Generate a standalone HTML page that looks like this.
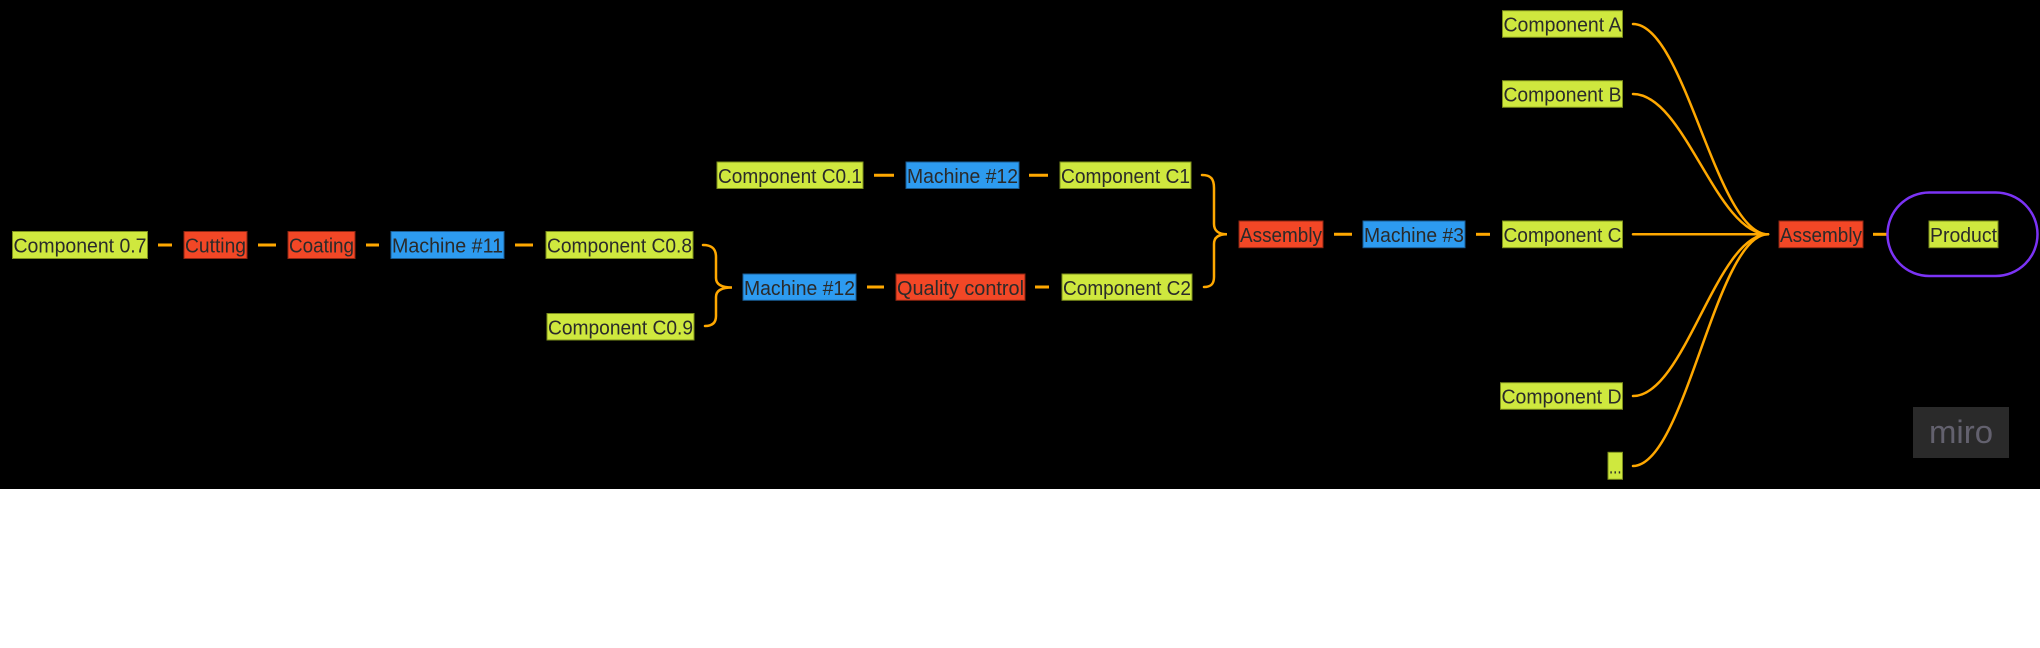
<!DOCTYPE html>
<html>
<head>
<meta charset="utf-8">
<style>
  html, body { margin:0; padding:0; background:#ffffff; }
  body { width:2040px; height:648px; overflow:hidden; }
  svg { display:block; }
  .t { font-family:"Liberation Sans", "DejaVu Sans", sans-serif; font-size:20px; fill:#2a2a2a; }
  .g { fill:#cfe83e; stroke:#7d8f1c; stroke-width:1; }
  .r { fill:#f24726; stroke:#8e2612; stroke-width:1; }
  .b { fill:#2d9bf0; stroke:#1a5c94; stroke-width:1; }
  .d { stroke:#ffa800; stroke-width:3; fill:none; }
  .c { stroke:#ffa800; stroke-width:2.5; fill:none; stroke-linecap:round; }
</style>
</head>
<body>
<svg width="2040" height="648" viewBox="0 0 2040 648" xmlns="http://www.w3.org/2000/svg">
  <rect x="0" y="0" width="2040" height="489" fill="#000000"/>
  <rect x="0" y="489" width="2040" height="159" fill="#ffffff"/>

  <!-- Row A -->
  <rect class="g" x="12.5" y="231.5" width="135" height="27"/>
  <text class="t" x="13.5" y="252.5" textLength="133" lengthAdjust="spacingAndGlyphs">Component 0.7</text>
  <rect class="r" x="184" y="231.5" width="63" height="27"/>
  <text class="t" x="185" y="252.5" textLength="61" lengthAdjust="spacingAndGlyphs">Cutting</text>
  <rect class="r" x="288" y="231.5" width="67" height="27"/>
  <text class="t" x="289" y="252.5" textLength="65" lengthAdjust="spacingAndGlyphs">Coating</text>
  <rect class="b" x="391" y="231.5" width="113" height="27"/>
  <text class="t" x="392" y="252.5" textLength="111" lengthAdjust="spacingAndGlyphs">Machine #11</text>
  <rect class="g" x="546" y="231.5" width="147" height="27"/>
  <text class="t" x="547" y="252.5" textLength="145" lengthAdjust="spacingAndGlyphs">Component C0.8</text>

  <line class="d" x1="158" y1="245" x2="172" y2="245"/>
  <line class="d" x1="258" y1="245" x2="276" y2="245"/>
  <line class="d" x1="366" y1="245" x2="379" y2="245"/>
  <line class="d" x1="515" y1="245" x2="533" y2="245"/>

  <!-- C0.9 -->
  <rect class="g" x="547" y="313.5" width="147" height="26.5"/>
  <text class="t" x="548" y="334.5" textLength="145" lengthAdjust="spacingAndGlyphs">Component C0.9</text>

  <!-- Brace 1 -->
  <path class="c" d="M703,245 C712,245 716,249 716,257 L716,278 C716,285 722,287.5 732,287.5 C722,287.5 716,290 716,297 L716,316 C716,323 712,326 705,326"/>

  <!-- Top row -->
  <rect class="g" x="717" y="162" width="146" height="26.5"/>
  <text class="t" x="718" y="183" textLength="144" lengthAdjust="spacingAndGlyphs">Component C0.1</text>
  <rect class="b" x="906" y="162" width="113" height="26.5"/>
  <text class="t" x="907" y="183" textLength="111" lengthAdjust="spacingAndGlyphs">Machine #12</text>
  <rect class="g" x="1060" y="162" width="131" height="26.5"/>
  <text class="t" x="1061" y="183" textLength="129" lengthAdjust="spacingAndGlyphs">Component C1</text>
  <line class="d" x1="874" y1="175.3" x2="894" y2="175.3"/>
  <line class="d" x1="1029" y1="175.3" x2="1048" y2="175.3"/>

  <!-- QC row -->
  <rect class="b" x="743" y="274" width="113" height="26.3"/>
  <text class="t" x="744" y="295" textLength="111" lengthAdjust="spacingAndGlyphs">Machine #12</text>
  <rect class="r" x="896" y="274" width="129" height="26.3"/>
  <text class="t" x="897" y="295" textLength="127" lengthAdjust="spacingAndGlyphs">Quality control</text>
  <rect class="g" x="1062" y="274" width="130" height="26.3"/>
  <text class="t" x="1063" y="295" textLength="128" lengthAdjust="spacingAndGlyphs">Component C2</text>
  <line class="d" x1="867" y1="287" x2="884" y2="287"/>
  <line class="d" x1="1035" y1="287" x2="1049" y2="287"/>

  <!-- Brace 2 -->
  <path class="c" d="M1202,175 C1211,175 1214,179 1214,188 L1214,224 C1214,231 1219,234.3 1227,234.3 C1219,234.3 1214,237 1214,244 L1214,277 C1214,284 1211,287 1204,287"/>

  <!-- Row C -->
  <rect class="r" x="1239" y="221" width="84" height="26.7"/>
  <text class="t" x="1240" y="242" textLength="82" lengthAdjust="spacingAndGlyphs">Assembly</text>
  <rect class="b" x="1363" y="221" width="102" height="26.7"/>
  <text class="t" x="1364" y="242" textLength="100" lengthAdjust="spacingAndGlyphs">Machine #3</text>
  <rect class="g" x="1502.5" y="221" width="120" height="26.7"/>
  <text class="t" x="1503.5" y="242" textLength="118" lengthAdjust="spacingAndGlyphs">Component C</text>
  <line class="d" x1="1334" y1="234.3" x2="1352" y2="234.3"/>
  <line class="d" x1="1476" y1="234.3" x2="1490" y2="234.3"/>

  <!-- Right column components -->
  <rect class="g" x="1502.5" y="10.7" width="120" height="26.6"/>
  <text class="t" x="1503.5" y="31.7" textLength="118" lengthAdjust="spacingAndGlyphs">Component A</text>
  <rect class="g" x="1502.5" y="80.7" width="120" height="26.6"/>
  <text class="t" x="1503.5" y="101.7" textLength="118" lengthAdjust="spacingAndGlyphs">Component B</text>
  <rect class="g" x="1500.5" y="382.7" width="122" height="26.6"/>
  <text class="t" x="1501.5" y="403.7" textLength="120" lengthAdjust="spacingAndGlyphs">Component D</text>
  <rect class="g" x="1608" y="452.3" width="14.5" height="27"/>
  <text class="t" x="1609" y="473.5" textLength="12.5" lengthAdjust="spacingAndGlyphs">...</text>

  <!-- Converging curves -->
  <path class="c" d="M1633,24 C1685,24 1716,234.3 1768,234.3"/>
  <path class="c" d="M1633,94 C1685,94 1716,234.3 1768,234.3"/>
  <path class="c" d="M1633,234.3 L1768,234.3"/>
  <path class="c" d="M1633,396 C1685,396 1716,234.3 1768,234.3"/>
  <path class="c" d="M1633,466 C1685,466 1716,234.3 1768,234.3"/>

  <!-- Final assembly and product -->
  <rect class="r" x="1779" y="221" width="84" height="26.7"/>
  <text class="t" x="1780" y="242" textLength="82" lengthAdjust="spacingAndGlyphs">Assembly</text>
  <line class="d" x1="1873" y1="234.3" x2="1887" y2="234.3"/>
  <rect x="1887.5" y="192.5" width="150" height="83.5" rx="41.75" ry="41.75" fill="none" stroke="#7b33f5" stroke-width="2.5"/>
  <rect class="g" x="1929" y="221" width="69" height="26.7"/>
  <text class="t" x="1930" y="242" textLength="67" lengthAdjust="spacingAndGlyphs">Product</text>

  <!-- miro logo -->
  <rect x="1913" y="407" width="96" height="51" fill="#2a2a2a"/>
  <text x="1929" y="443" textLength="64" lengthAdjust="spacingAndGlyphs" style="font-family:'Liberation Sans','DejaVu Sans',sans-serif;font-size:32px;font-weight:normal;fill:#63616e;">miro</text>
</svg>
</body>
</html>
